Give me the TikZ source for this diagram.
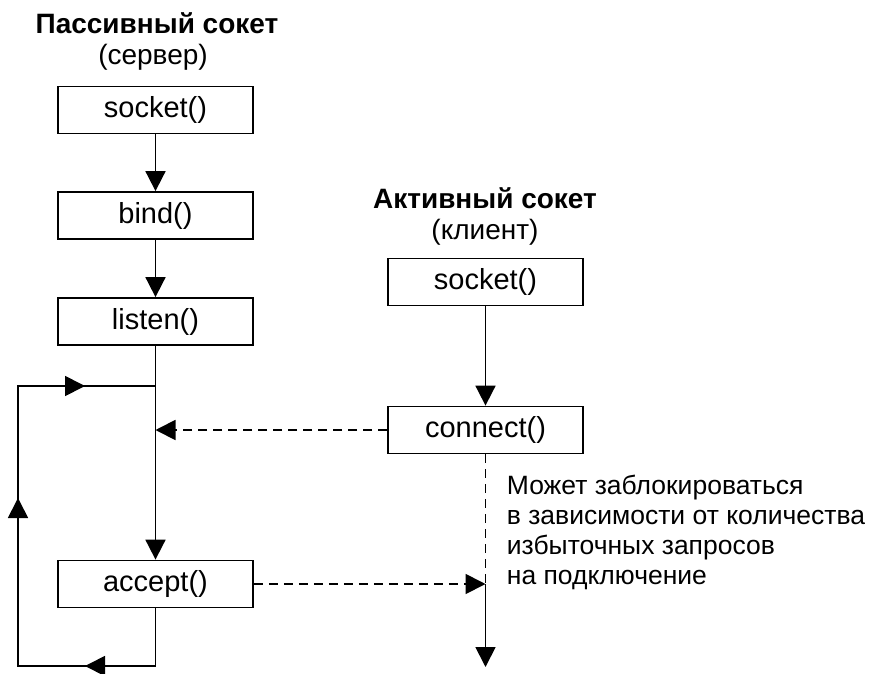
\documentclass[tikz,border=0pt]{standalone}
\usepackage{fontspec}
\setmainfont{Liberation Sans}
\usetikzlibrary{arrows.meta}
\begin{document}
\begin{tikzpicture}[x=1pt,y=-1pt, line width=1.8pt,
  box/.style={draw, line width=1.8pt, minimum width=195pt, minimum height=47pt, inner sep=0pt, font=\fontsize{29}{32}\selectfont},
  tip/.style={-{Triangle[length=20pt,width=20pt]}},
  dsh/.style={dash pattern=on 9pt off 6pt},
  ttl/.style={inner sep=0pt, font=\fontsize{28}{32}\selectfont\bfseries},
  sub/.style={inner sep=0pt, font=\fontsize{28}{32}\selectfont}]
\useasboundingbox (0,0) rectangle (892,673);
% titles
\node[ttl] (t1) at (157,23) {Пассивный сокет};
\node[sub] (s1) at (153,57) {(сервер)};
\node[ttl] (t2) at (485,198) {Активный сокет};
\node[sub] (s2) at (485,232) {(клиент)};
% boxes
\node[box] (sock1) at (155.5,110) {socket()};
\node[box] (bind) at (155.5,215.5) {bind()};
\node[box] (listen) at (155.5,321.5) {listen()};
\node[box] (accept) at (155.5,584) {accept()};
\node[box] (sock2) at (485.5,282) {socket()};
\node[box] (conn) at (485.5,430) {connect()};
% note
\node[anchor=west, align=left, inner sep=0pt, font=\fontsize{26.5}{30}\selectfont] (note) at (506,532)
  {Может заблокироваться\\в зависимости от количества\\избыточных запросов\\на подключение};
% helper coordinates
\coordinate (jtop) at (155.5,386);
\coordinate (jdash) at (listen.south |- conn.west);
\coordinate (rjoin) at (conn.south |- accept.east);
\coordinate (rend) at (485.5,667);
\coordinate (lbot) at (18,666);
\coordinate (ltop) at (18,386);
\coordinate (ab1) at (110,666);
\coordinate (ab2) at (85,666);
\coordinate (al1) at (18,520);
\coordinate (al2) at (18,498);
\coordinate (at1) at (60,386);
\coordinate (at2) at (85,386);
% connectors
\draw[tip] (sock1) -- (bind);
\draw[tip] (bind) -- (listen);
\draw[tip] (listen) -- (accept);
\draw[tip] (sock2) -- (conn);
\draw (accept.south) |- (lbot) -- (ltop) -- (jtop);
\draw[tip] (ab1) -- (ab2);
\draw[tip] (al1) -- (al2);
\draw[tip] (at1) -- (at2);
\draw[dsh, tip] (conn.west) -- (jdash);
\draw[dsh, tip] (accept.east) -- (rjoin);
\draw[dsh, line width=1.3pt] (conn.south) -- (rjoin);
\draw[tip] (rjoin) -- (rend);
\end{tikzpicture}
\end{document}
